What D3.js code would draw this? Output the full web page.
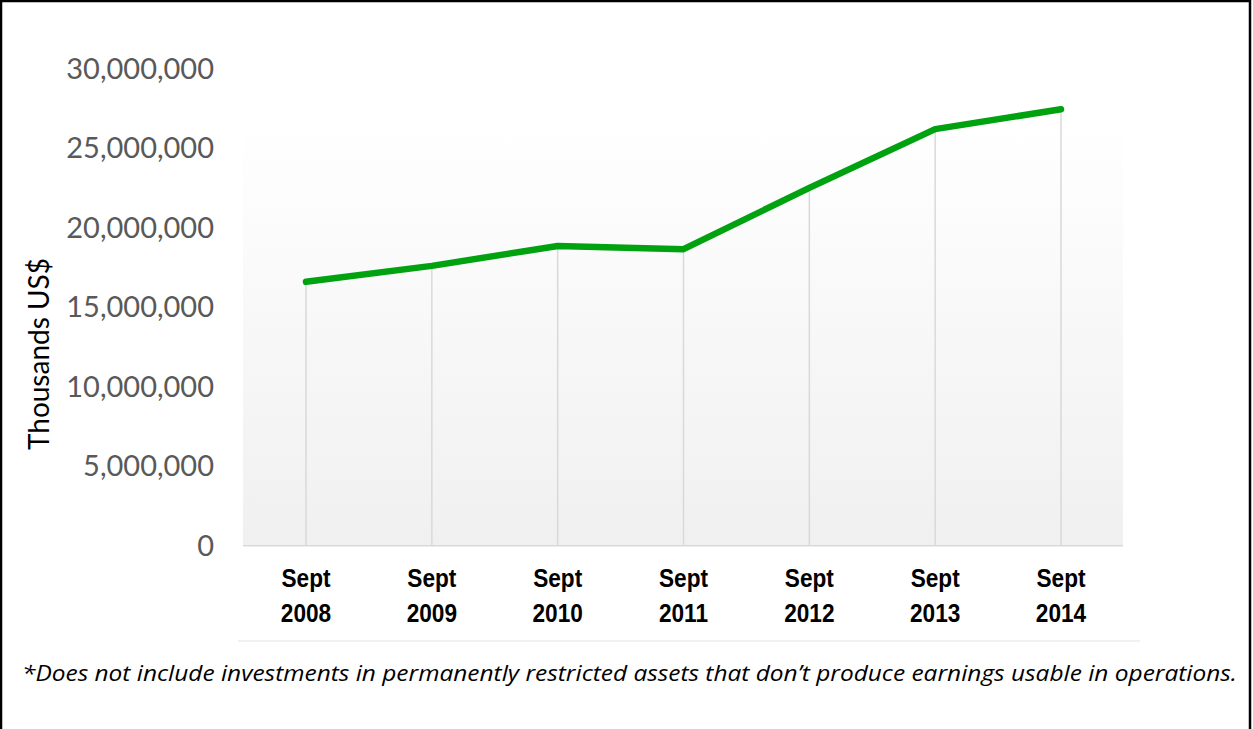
<!DOCTYPE html>
<html>
<head>
<meta charset="utf-8">
<script src="https://cdn.jsdelivr.net/npm/d3@7"></script>
<style>
  html, body { margin: 0; padding: 0; background: #fff; }
  svg { display: block; }
</style>
</head>
<body>
<script>
// data (thousands US$)
var years = ["2008", "2009", "2010", "2011", "2012", "2013", "2014"];
var values = [16600000, 17600000, 18850000, 18650000, 22500000, 26200000, 27450000];
var yTicks = [0, 5000000, 10000000, 15000000, 20000000, 25000000, 30000000];

var width = 1253, height = 729;

var svg = d3.select("body").append("svg")
  .attr("width", width)
  .attr("height", height);

var defs = svg.append("defs");
var grad = defs.append("linearGradient")
  .attr("id", "bg")
  .attr("x1", 0).attr("y1", 0).attr("x2", 0).attr("y2", 1);
grad.append("stop").attr("offset", "0%").attr("stop-color", "#ffffff");
grad.append("stop").attr("offset", "100%").attr("stop-color", "#f0f0f0");

var x = d3.scalePoint()
  .domain(years)
  .range([306, 1061]);

var y = d3.scaleLinear()
  .domain([0, 30000000])
  .range([545.7, 68.7]);

// plot area background
svg.append("rect")
  .attr("x", 243).attr("y", 121)
  .attr("width", 1123 - 243).attr("height", y(0) - 121)
  .attr("fill", "url(#bg)");

// y tick labels
svg.append("g")
  .selectAll("text")
  .data(yTicks)
  .enter().append("text")
  .attr("x", 214)
  .attr("y", function(d) { return y(d); })
  .attr("dy", "0.35em")
  .attr("text-anchor", "end")
  .style("font-family", "Lato, 'Open Sans', sans-serif")
  .style("font-size", "29px")
  .style("fill", "#595959")
  .text(function(d) { return d3.format(",")(d); });

// drop lines
svg.append("g")
  .selectAll("line")
  .data(values)
  .enter().append("line")
  .attr("x1", function(d, i) { return x(years[i]); })
  .attr("x2", function(d, i) { return x(years[i]); })
  .attr("y1", function(d) { return y(d); })
  .attr("y2", y(0))
  .attr("stroke", "#d9d9d9")
  .attr("stroke-width", 1.5);

// x axis line
svg.append("line")
  .attr("x1", 243).attr("x2", 1123)
  .attr("y1", y(0)).attr("y2", y(0))
  .attr("stroke", "#d9d9d9")
  .attr("stroke-width", 1.5);

// the line
var line = d3.line()
  .x(function(d, i) { return x(years[i]); })
  .y(function(d) { return y(d); });

svg.append("path")
  .datum(values)
  .attr("d", line)
  .attr("fill", "none")
  .attr("stroke", "#00a20f")
  .attr("stroke-width", 6.5)
  .attr("stroke-linecap", "round")
  .attr("stroke-linejoin", "round");

// category labels (a bit condensed, like the original)
var cat = svg.append("g")
  .selectAll("text")
  .data(years)
  .enter().append("text")
  .attr("transform", function(d) { return "translate(" + x(d) + ",0) scale(0.87,1)"; })
  .attr("text-anchor", "middle")
  .style("font-family", "'Liberation Sans', Arial, sans-serif")
  .style("font-weight", "bold")
  .style("font-size", "26px")
  .style("fill", "#000");
cat.append("tspan")
  .attr("x", 0)
  .attr("y", 587)
  .text("Sept");
cat.append("tspan")
  .attr("x", 0)
  .attr("y", 622)
  .text(function(d) { return d; });

// thin line under the chart
svg.append("line")
  .attr("x1", 238).attr("x2", 1140)
  .attr("y1", 641).attr("y2", 641)
  .attr("stroke", "#ececec")
  .attr("stroke-width", 1.5);

// y axis title
svg.append("text")
  .attr("transform", "translate(49,354) rotate(-90)")
  .attr("text-anchor", "middle")
  .style("font-family", "Lato, 'Open Sans', sans-serif")
  .style("font-size", "28px")
  .style("fill", "#000")
  .text("Thousands US$");

// footnote
svg.append("text")
  .attr("x", 22).attr("y", 681)
  .attr("textLength", 1215)
  .attr("lengthAdjust", "spacingAndGlyphs")
  .style("font-family", "'Open Sans', sans-serif")
  .style("font-style", "italic")
  .style("font-size", "21px")
  .style("fill", "#000")
  .text("*Does not include investments in permanently restricted assets that don\u2019t produce earnings usable in operations.");

// frame
svg.append("rect")
  .attr("x", 1).attr("y", 1)
  .attr("width", 1249).attr("height", 740)
  .attr("fill", "none")
  .attr("stroke", "#000")
  .attr("stroke-width", 2.5);
</script>
</body>
</html>
